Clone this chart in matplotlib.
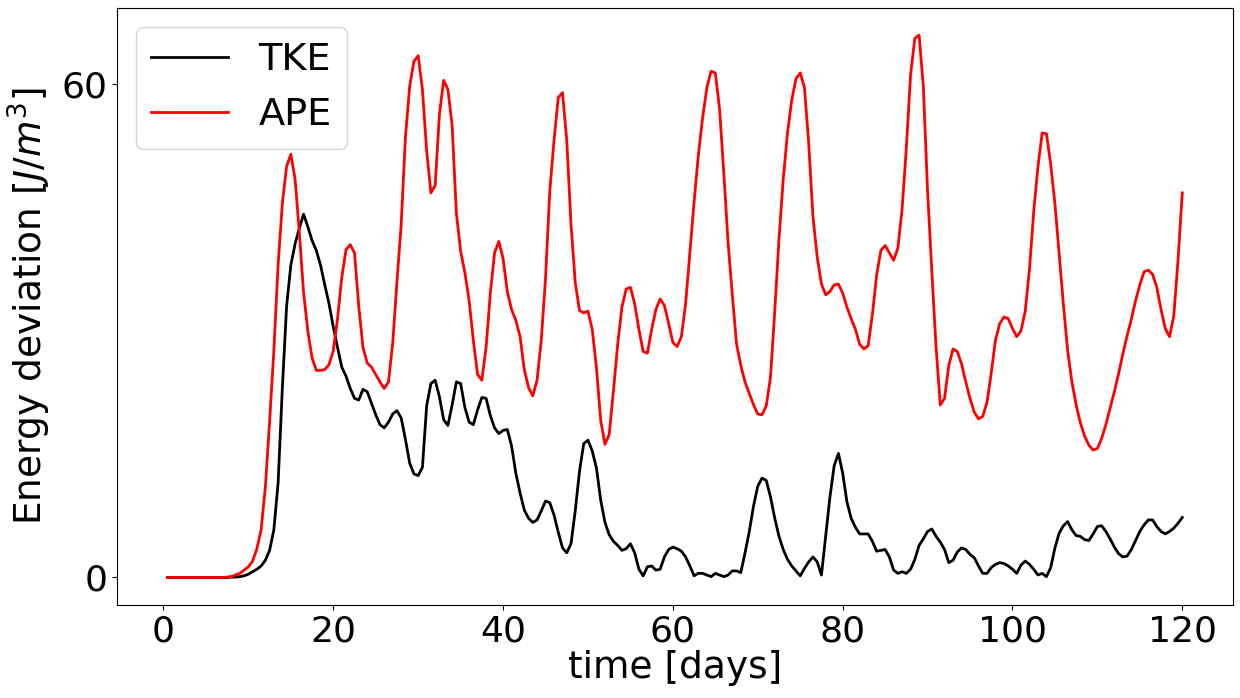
import numpy as np
import matplotlib
matplotlib.use("Agg")
import matplotlib.pyplot as plt

# time axis: half-day samples
days = np.arange(0.5, 120.01, 0.5)

tke = [
    0, 0, 0, 0, 0, 0, 0, 0, 0, 0, 0, 0, 0, 0, 0, 0.05, 0.05, 0.1, 0.2, 0.4,
    0.7, 1.0, 1.4, 2.1, 3.3, 5.8, 11.5, 23, 33, 38, 40.6, 42.5, 44.2, 42.7, 41.0, 39.8, 38.0, 35.6, 33.3, 30.5,
    28.0, 25.6, 24.5, 23.0, 21.8, 21.6, 22.9, 22.6, 21.2, 19.8, 18.6, 18.2, 18.9, 19.9, 20.3, 19.4, 16.8, 13.9, 12.6, 12.4,
    13.4, 20.9, 23.6, 24.0, 22.0, 19.2, 18.5, 21.0, 23.8, 23.6, 20.7, 18.9, 18.6, 20.4, 21.9, 21.8, 19.7, 18.2, 17.5, 17.9,
    18.0, 16.0, 12.7, 10.3, 8.2, 7.2, 6.7, 7.0, 8.1, 9.3, 9.1, 7.6, 5.5, 3.6, 3.0, 4.1, 8.1, 12.9, 16.3, 16.7,
    15.4, 13.3, 9.4, 6.7, 5.2, 4.4, 3.9, 3.3, 3.5, 4.1, 3.0, 1.0, 0.2, 1.3, 1.4, 0.9, 1.0, 2.5, 3.4, 3.7,
    3.5, 3.2, 2.5, 1.4, 0.2, 0.5, 0.5, 0.3, 0.1, 0.5, 0.3, 0.1, 0.3, 0.8, 0.8, 0.6, 3.0, 5.6, 8.7, 11.1,
    12.1, 11.8, 9.8, 7.2, 5.0, 3.4, 2.2, 1.4, 0.8, 0.2, 1.1, 1.9, 2.5, 1.9, 0.3, 5.0, 9.8, 13.6, 15.1, 12.7,
    9.2, 7.2, 6.1, 5.3, 5.3, 5.3, 4.4, 3.2, 3.3, 3.4, 2.5, 0.9, 0.5, 0.7, 0.5, 1.0, 2.2, 3.9, 4.7, 5.6,
    5.9, 5.0, 4.3, 3.4, 1.8, 2.1, 3.1, 3.6, 3.4, 2.8, 2.4, 1.4, 0.5, 0.5, 1.2, 1.6, 1.8, 1.7, 1.4, 1.0,
    0.5, 1.5, 2.0, 1.6, 1.0, 0.3, 0.5, 0.1, 1.2, 3.6, 5.4, 6.3, 6.8, 5.8, 5.1, 5.0, 4.6, 4.5, 5.3, 6.2,
    6.3, 5.6, 4.7, 3.7, 2.9, 2.5, 2.6, 3.4, 4.5, 5.6, 6.4, 7.0, 7.0, 6.2, 5.6, 5.3, 5.6, 6.0, 6.6, 7.3,
]

ape = [
    0, 0, 0, 0, 0, 0, 0, 0, 0, 0, 0, 0, 0, 0, 0.05, 0.1, 0.3, 0.5, 0.9, 1.3,
    2.0, 3.5, 5.8, 11, 19, 27.6, 38, 45.5, 50, 51.5, 48.5, 42, 34.7, 30, 26.7, 25.2, 25.2, 25.3, 25.9, 27.6,
    31.5, 36.5, 39.9, 40.5, 39.5, 33, 28, 26.1, 25.6, 24.7, 23.8, 23.0, 23.8, 28.5, 36, 43, 53.6, 59.8, 62.8, 63.5,
    59.4, 51.9, 46.8, 47.7, 56.3, 60.5, 59.4, 55, 44.3, 39.7, 37.1, 33.7, 28.8, 24.7, 24.0, 28.0, 34.6, 39.5, 40.9, 38.8,
    34.8, 32.6, 31.3, 29.3, 25.3, 23.1, 22.1, 24.0, 28.9, 36.4, 47.0, 53.2, 58.4, 59.0, 53.2, 43.0, 35.9, 32.5, 32.2, 32.4,
    30.2, 25.5, 19.1, 16.2, 17.4, 22.7, 28.4, 32.9, 35.1, 35.3, 33.3, 30.2, 27.5, 27.3, 30.2, 32.6, 33.9, 33.1, 30.9, 28.6,
    28.1, 29.3, 33.3, 39.5, 45.7, 51.4, 55.9, 59.6, 61.6, 61.4, 57.0, 49.2, 40.8, 34.4, 28.4, 25.8, 23.8, 22.4, 21.0, 19.9,
    19.8, 20.9, 24.4, 32.4, 41.2, 48.5, 54.1, 58.1, 60.7, 61.4, 59.6, 52.8, 43.9, 39.0, 35.7, 34.4, 34.8, 35.6, 35.7, 34.6,
    32.9, 31.5, 30.2, 28.4, 27.8, 28.2, 32.0, 36.8, 39.8, 40.4, 39.5, 38.6, 40.1, 44.8, 52.3, 61.2, 65.6, 66.0, 59.8, 47.0,
    37.3, 28.0, 21.0, 21.8, 25.8, 27.8, 27.5, 26.0, 23.8, 21.8, 20.1, 19.3, 19.6, 21.3, 24.9, 28.9, 30.9, 31.7, 31.5, 30.3,
    29.3, 30.0, 32.4, 37.5, 44.5, 50.0, 54.1, 54.0, 50.3, 45.5, 39.3, 33.2, 27.6, 23.8, 21.0, 18.8, 17.2, 16.1, 15.5, 15.7,
    16.9, 18.6, 20.6, 22.6, 24.8, 27.2, 29.4, 31.4, 33.7, 35.6, 37.2, 37.4, 36.9, 35.3, 32.6, 30.3, 29.3, 31.8, 38.6, 46.8,
]

xticks = [0, 20, 40, 60, 80, 100, 120]
yticks = [0, 60]

plt.rcParams['font.family'] = ['DejaVu Sans']
plt.rcParams['font.size'] = 26

fig = plt.figure(figsize=(12.4, 6.98), dpi=100)
ax = fig.add_axes([117 / 1240, 93 / 698, 1116 / 1240, 597 / 698])

ax.plot(days, tke, color='black', lw=2, label='TKE')
ax.plot(days, ape, color='red', lw=2, label='APE')

ax.set_xlim(-5.475, 125.975)
ax.set_ylim(-3.35, 69.3)
ax.set_xticks(xticks)
ax.set_yticks(yticks)
ax.tick_params(labelsize=26)
ax.set_xlabel('time [days]', fontsize=27, labelpad=1)
ax.set_ylabel(r'Energy deviation [$J/m^3$]', fontsize=27, labelpad=6)
ax.legend(loc='upper left', fontsize=27.5)

fig.savefig('out.png', dpi=100)
